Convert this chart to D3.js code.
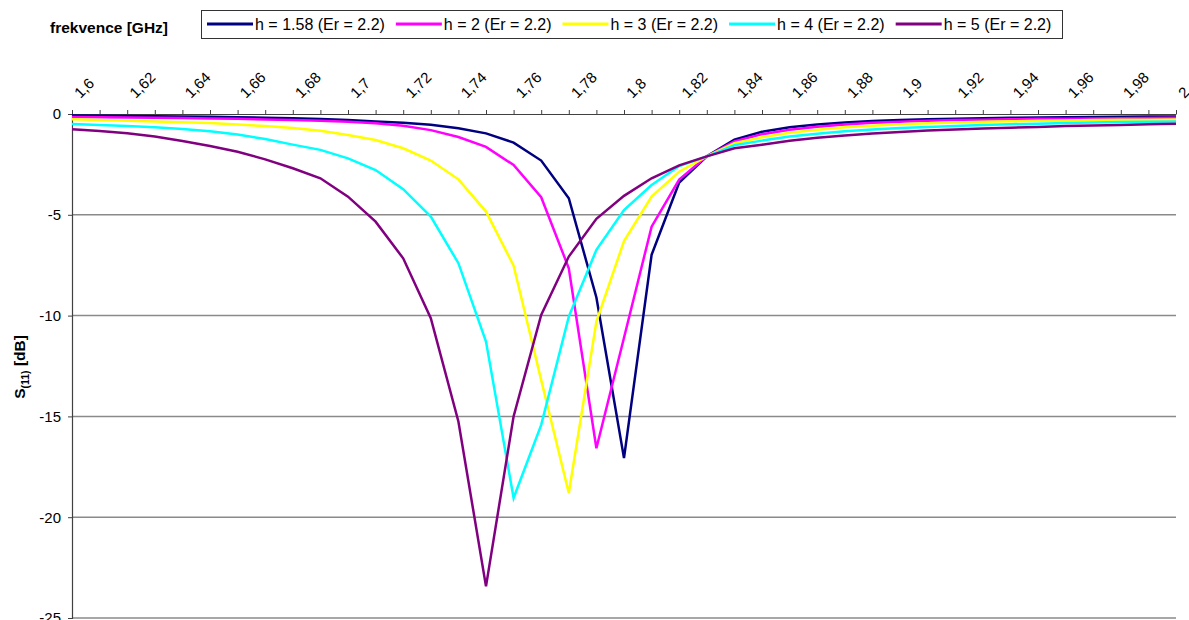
<!DOCTYPE html>
<html><head><meta charset="utf-8">
<script src="https://cdn.jsdelivr.net/npm/d3@7"></script>
<style>body{margin:0;background:#fff} svg{display:block;font-family:"Liberation Sans",Arial,sans-serif}</style>
</head><body><svg id="c" width="1189" height="620"></svg>
<script>
const freqs = [1.60,1.61,1.62,1.63,1.64,1.65,1.66,1.67,1.68,1.69,1.70,1.71,1.72,1.73,1.74,1.75,1.76,1.77,1.78,1.79,1.80,1.81,1.82,1.83,1.84,1.85,1.86,1.87,1.88,1.89,1.90,1.91,1.92,1.93,1.94,1.95,1.96,1.97,1.98,1.99,2.00];
const xTickLabels = ["1,6","","1,62","","1,64","","1,66","","1,68","","1,7","","1,72","","1,74","","1,76","","1,78","","1,8","","1,82","","1,84","","1,86","","1,88","","1,9","","1,92","","1,94","","1,96","","1,98","","2"];
const yTicks = [0,-5,-10,-15,-20,-25];
const seriesNames = ["h = 1.58 (Er = 2.2)","h = 2 (Er = 2.2)","h = 3 (Er = 2.2)","h = 4 (Er = 2.2)","h = 5 (Er = 2.2)"];
const seriesColors = ["#000080","#ff00ff","#ffff00","#00ffff","#800080"];
const h158 = [-0.08,-0.09,-0.1,-0.11,-0.12,-0.14,-0.16,-0.18,-0.21,-0.25,-0.3,-0.37,-0.43,-0.53,-0.71,-0.96,-1.42,-2.31,-4.18,-9.1,-17.07,-6.99,-3.4,-2.1,-1.27,-0.88,-0.66,-0.52,-0.42,-0.35,-0.3,-0.26,-0.23,-0.21,-0.19,-0.17,-0.16,-0.15,-0.14,-0.13,-0.12];
const h2 = [-0.15,-0.16,-0.17,-0.18,-0.2,-0.22,-0.24,-0.27,-0.3,-0.33,-0.38,-0.46,-0.58,-0.8,-1.14,-1.63,-2.53,-4.13,-7.65,-16.58,-11.1,-5.59,-3.25,-2.1,-1.36,-1.0,-0.78,-0.63,-0.52,-0.44,-0.38,-0.34,-0.3,-0.28,-0.26,-0.24,-0.23,-0.22,-0.21,-0.2,-0.19];
const h3 = [-0.26,-0.3,-0.33,-0.37,-0.41,-0.45,-0.52,-0.6,-0.7,-0.83,-1.04,-1.29,-1.7,-2.31,-3.24,-4.84,-7.52,-13.2,-18.8,-10.3,-6.3,-4.1,-2.86,-2.1,-1.45,-1.15,-0.93,-0.78,-0.66,-0.58,-0.51,-0.46,-0.42,-0.39,-0.36,-0.34,-0.32,-0.3,-0.29,-0.28,-0.27];
const h4 = [-0.5,-0.54,-0.59,-0.66,-0.74,-0.86,-1.02,-1.24,-1.52,-1.78,-2.2,-2.78,-3.73,-5.09,-7.4,-11.29,-19.05,-15.42,-10.05,-6.74,-4.76,-3.52,-2.58,-2.1,-1.55,-1.32,-1.12,-0.98,-0.86,-0.77,-0.7,-0.64,-0.59,-0.55,-0.51,-0.48,-0.45,-0.42,-0.4,-0.38,-0.37];
const h5 = [-0.76,-0.84,-0.96,-1.12,-1.34,-1.59,-1.87,-2.25,-2.69,-3.19,-4.1,-5.34,-7.16,-10.13,-15.25,-23.43,-15.0,-9.97,-7.07,-5.2,-4.06,-3.19,-2.55,-2.1,-1.7,-1.52,-1.33,-1.18,-1.07,-0.97,-0.89,-0.82,-0.77,-0.72,-0.68,-0.64,-0.6,-0.57,-0.54,-0.51,-0.48];
const seriesValues = [h158,h2,h3,h4,h5];

const svg = d3.select("#c");
const x = d3.scaleLinear().domain([1.6,2.0]).range([72,1176]);
const y = d3.scaleLinear().domain([0,-25]).range([114,618]);

// gridlines
svg.append("g").selectAll("line").data(yTicks.filter(v=>v!==0)).join("line")
  .attr("x1",x(1.6)).attr("x2",x(2.0)).attr("y1",d=>y(d)).attr("y2",d=>y(d))
  .attr("stroke","#8a8a8a").attr("stroke-width",1.5);

// y axis
const ya = svg.append("g").attr("transform",`translate(${x(1.6)},0)`)
  .call(d3.axisLeft(y).tickValues(yTicks).tickSize(4).tickPadding(7).tickFormat(d=>String(d)));
ya.select(".domain").attr("stroke","#404040").attr("stroke-width",1.2);
ya.selectAll(".tick line").attr("stroke","#404040");
ya.selectAll("text").attr("font-size",15).attr("fill","#000").attr("font-family","Liberation Sans, Arial, sans-serif");

// x axis (top)
const xa = svg.append("g").attr("transform",`translate(0,${y(0)})`)
  .call(d3.axisTop(x).tickValues(freqs).tickSize(4).tickSizeOuter(0).tickFormat((d,i)=>xTickLabels[i]));
xa.select(".domain").attr("stroke","#404040").attr("stroke-width",1.2);
xa.selectAll(".tick line").attr("stroke","#404040");
xa.selectAll("text").attr("font-size",15).attr("fill","#000").attr("font-family","Liberation Sans, Arial, sans-serif")
  .attr("x",0).attr("y",0).attr("dy",null).attr("text-anchor","start")
  .attr("transform","translate(8,-15) rotate(-45)");

// lines
const line = d3.line().x((d,i)=>x(freqs[i])).y(d=>y(d));
svg.append("g").selectAll("path").data(seriesValues).join("path")
  .attr("d",line).attr("fill","none").attr("stroke",(d,i)=>seriesColors[i])
  .attr("stroke-width",2.5).attr("stroke-linejoin","miter");

// x title
svg.append("text").attr("x",50).attr("y",33).attr("font-size",15.5).attr("font-weight","bold").text("frekvence [GHz]");

// y title
const yt = svg.append("text").attr("transform","translate(25,367) rotate(-90)").attr("text-anchor","middle")
  .attr("font-size",15.5).attr("font-weight","bold");
yt.append("tspan").text("S");
yt.append("tspan").attr("font-size",10.5).attr("dy",4).text("(11)");
yt.append("tspan").attr("dy",-4).text(" [dB]");

// legend
const lg = svg.append("g");
lg.append("rect").attr("x",201.5).attr("y",10.5).attr("width",861).attr("height",28).attr("fill","#fff").attr("stroke","#333").attr("stroke-width",1);
let cx = 207;
seriesNames.forEach((n,i)=>{
  lg.append("line").attr("x1",cx).attr("x2",cx+46).attr("y1",24).attr("y2",24).attr("stroke",seriesColors[i]).attr("stroke-width",3);
  const t = lg.append("text").attr("x",cx+48).attr("y",30).attr("font-size",16).text(n);
  cx += 48 + t.node().getComputedTextLength() + 11;
});
</script></body></html>
